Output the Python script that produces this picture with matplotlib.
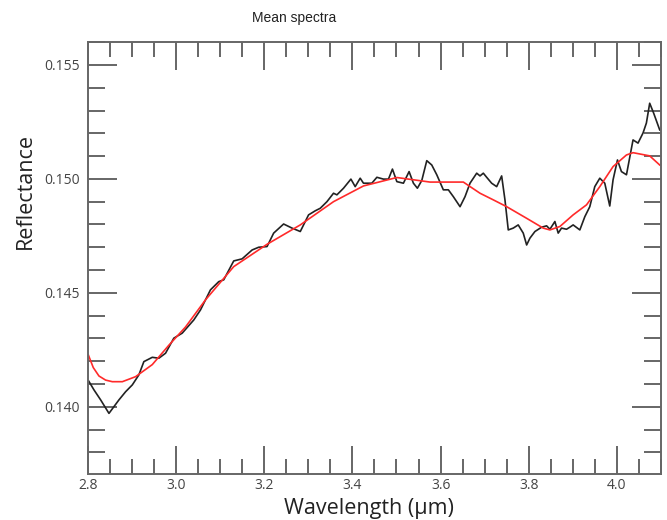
import numpy as np
import matplotlib
matplotlib.use("Agg")
import matplotlib.pyplot as plt
from matplotlib.ticker import MultipleLocator

# mean spectrum (black, noisy)
wl = [2.8016, 2.8136, 2.8288, 2.8476, 2.8702, 2.8854, 2.9006, 2.9155, 2.9268, 2.9459,
      2.9608, 2.9760, 2.9948, 3.0138, 3.0401, 3.0553, 3.0779, 3.0967, 3.1080, 3.1307,
      3.1497, 3.1724, 3.1873, 3.2063, 3.2213, 3.2439, 3.2630, 3.2817, 3.3005, 3.3157,
      3.3270, 3.3422, 3.3571, 3.3648, 3.3798, 3.3966, 3.4063, 3.4176, 3.4251, 3.4441,
      3.4555, 3.4704, 3.4818, 3.4908, 3.5008, 3.5157, 3.5286, 3.5384, 3.5474, 3.5574,
      3.5687, 3.5800, 3.5914, 3.6063, 3.6177, 3.6290, 3.6442, 3.6555, 3.6668, 3.6820,
      3.6895, 3.6970, 3.7046, 3.7159, 3.7273, 3.7386, 3.7461, 3.7536, 3.7649, 3.7762,
      3.7876, 3.7953, 3.8028, 3.8141, 3.8293, 3.8406, 3.8481, 3.8594, 3.8669, 3.8745,
      3.8858, 3.8933, 3.9008, 3.9160, 3.9273, 3.9386, 3.9499, 3.9613, 3.9726, 3.9839,
      3.9914, 4.0014, 4.0104, 4.0218, 4.0367, 4.0480, 4.0593, 4.0670, 4.0745, 4.0836,
      4.0972]
refl = [0.14113, 0.14074, 0.14030, 0.13971, 0.14030, 0.14066, 0.14096, 0.14140, 0.14198, 0.14217,
        0.14213, 0.14235, 0.14301, 0.14323, 0.14381, 0.14425, 0.14513, 0.14549, 0.14557, 0.14640,
        0.14649, 0.14688, 0.14700, 0.14703, 0.14762, 0.14802, 0.14784, 0.14769, 0.14842, 0.14860,
        0.14871, 0.14900, 0.14937, 0.14930, 0.14959, 0.14999, 0.14966, 0.15003, 0.14981, 0.14981,
        0.15007, 0.14999, 0.14999, 0.15043, 0.14988, 0.14981, 0.15032, 0.14981, 0.14959, 0.14993,
        0.15080, 0.15061, 0.15018, 0.14952, 0.14952, 0.14922, 0.14878, 0.14922, 0.14981, 0.15025,
        0.15013, 0.15025, 0.15007, 0.14981, 0.14966, 0.15013, 0.14908, 0.14776, 0.14784, 0.14798,
        0.14762, 0.14710, 0.14740, 0.14769, 0.14788, 0.14794, 0.14779, 0.14813, 0.14762, 0.14784,
        0.14779, 0.14788, 0.14798, 0.14776, 0.14834, 0.14878, 0.14966, 0.15003, 0.14981, 0.14881,
        0.14996, 0.15083, 0.15032, 0.15018, 0.15171, 0.15157, 0.15201, 0.15245, 0.15332, 0.15288,
        0.15215]

# smoothed fit (red)
wl_fit = [2.8009, 2.8120, 2.8249, 2.8400, 2.8553, 2.8779, 2.9080, 2.9459, 2.9835, 3.0213,
          3.0666, 3.1307, 3.2063, 3.2817, 3.3571, 3.4251, 3.5008, 3.5762, 3.6517, 3.6895,
          3.7196, 3.7500, 3.7953, 3.8329, 3.8481, 3.8707, 3.9008, 3.9311, 3.9613, 3.9914,
          4.0218, 4.0367, 4.0745, 4.0972]
refl_fit = [0.14227, 0.14172, 0.14135, 0.14117, 0.14110, 0.14110, 0.14132, 0.14185, 0.14270, 0.14350,
            0.14469, 0.14615, 0.14713, 0.14798, 0.14900, 0.14969, 0.15006, 0.14986, 0.14986, 0.14937,
            0.14908, 0.14878, 0.14827, 0.14784, 0.14776, 0.14791, 0.14842, 0.14886, 0.14966, 0.15054,
            0.15105, 0.15115, 0.15101, 0.15061]

fig = plt.figure(figsize=(6.67, 5.20), dpi=100)
ax = fig.add_axes([0.1319, 0.0885, 0.859, 0.8313])

ax.plot(wl, refl, color="#222222", lw=1.2)
ax.plot(wl_fit, refl_fit, color="#ff2a2a", lw=1.2)

ax.set_xlim(2.8, 4.1)
ax.set_ylim(0.13705, 0.15602)

ax.xaxis.set_major_locator(MultipleLocator(0.2))
ax.xaxis.set_minor_locator(MultipleLocator(0.05))
ax.yaxis.set_major_locator(MultipleLocator(0.005))
ax.yaxis.set_minor_locator(MultipleLocator(0.001))
ax.xaxis.set_major_formatter(plt.FuncFormatter(lambda v, p: "%.1f" % v))
ax.yaxis.set_major_formatter(plt.FuncFormatter(lambda v, p: "%.3f" % v))

ax.tick_params(which="both", direction="in", top=True, right=True,
               color="#666666", width=1.4, labelcolor="#444444", labelsize=10)
ax.tick_params(which="major", length=20)
ax.tick_params(which="minor", length=11)
ax.tick_params(axis="y", which="major", length=21, pad=6)
ax.tick_params(axis="y", which="minor", length=12)
ax.tick_params(axis="x", pad=3)
for lab in ax.get_xticklabels() + ax.get_yticklabels():
    lab.set_family("Open Sans")

for s in ax.spines.values():
    s.set_color("#666666")
    s.set_linewidth(1.4)

fig.text(0.441, 0.965, "Mean spectra", ha="center", va="center",
         fontsize=10, family="Liberation Sans", color="#222222")
fig.text(0.553, 0.022, "Wavelength (\u00b5m)", ha="center", va="center",
         fontsize=15.5, family="Open Sans", color="#222222")
fig.text(0.038, 0.632, "Reflectance", ha="center", va="center", rotation=90,
         fontsize=15.5, family="Open Sans", color="#222222")

fig.savefig("out.png", dpi=100)
